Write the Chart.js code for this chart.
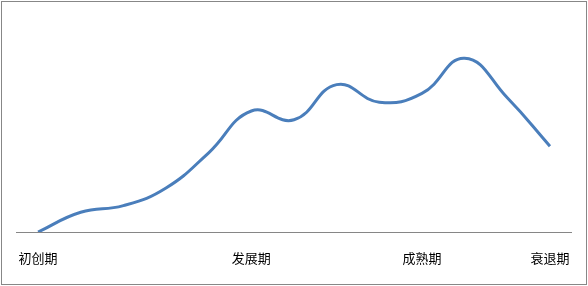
<!DOCTYPE html>
<html>
<head>
<meta charset="utf-8">
<script src="https://cdn.jsdelivr.net/npm/chart.js@4/dist/chart.umd.min.js"></script>
<style>
  body { margin: 0; background: #fff; }
  #wrap { position: relative; width: 588px; height: 286px; }
  #frame {
    position: absolute; left: 1px; top: 1px; width: 584px; height: 282px;
    border: 1px solid #878787; pointer-events: none;
  }
</style>
</head>
<body>
<div id="wrap">
  <canvas id="myChart" width="588" height="286"></canvas>
  <div id="frame"></div>
</div>
<script>
// Stage labels (only some categories carry a label)
const stages = ["初创期", "", "", "", "", "发展期", "", "", "", "成熟期", "", "", "衰退期"];

// Curve values (0 = baseline, 100 = top)
const growth = [0, 9, 12, 20, 36, 55, 51, 67, 59, 63, 79, 61, 39];

const ctx = document.getElementById("myChart");

new Chart(ctx, {
  type: "line",
  data: {
    labels: stages,
    datasets: [
      {
        data: growth,
        borderColor: "#4a7ebb",
        borderWidth: 3,
        pointRadius: 0,
        tension: 0.45,
        fill: false,
      },
    ],
  },
  options: {
    responsive: false,
    animation: false,
    layout: { padding: { left: 15, right: 16, top: 12, bottom: 0 } },
    scales: {
      x: {
        offset: true,
        grid: { display: false, drawTicks: false },
        border: { display: true, color: "#868686", width: 1 },
        ticks: {
          autoSkip: false,
          maxRotation: 0,
          padding: 18,
          color: "#000",
          font: { family: "'Noto Sans CJK SC', sans-serif", size: 13 },
        },
        afterFit: (scale) => { scale.height = 54; },
      },
      y: { display: false, min: 0, max: 100 },
    },
    plugins: { legend: { display: false }, tooltip: { enabled: false } },
  },
});
</script>
</body>
</html>
